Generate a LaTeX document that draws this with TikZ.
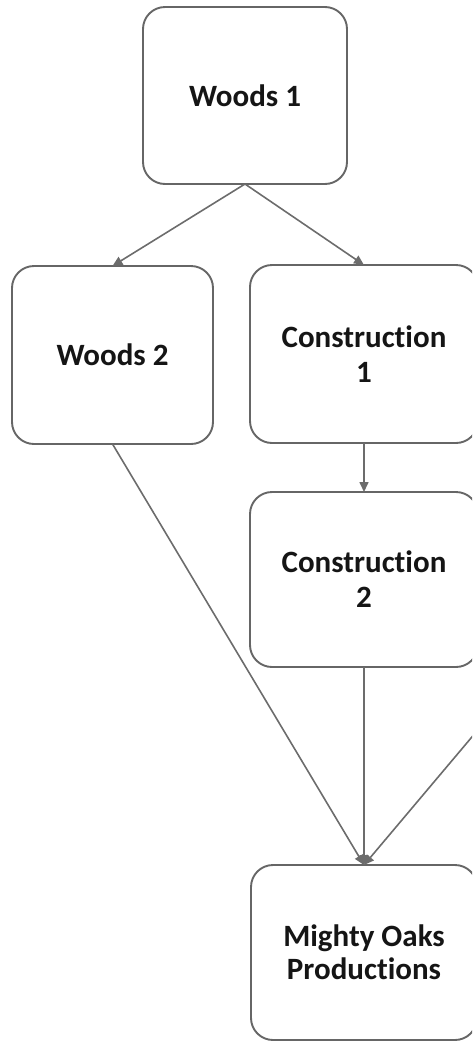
\documentclass[tikz,border=0pt]{standalone}
\usepackage{fontspec}
\setmainfont[Ligatures=NoCommon]{Carlito}
\usetikzlibrary{arrows.meta}
\definecolor{boxgray}{HTML}{666666}
\definecolor{linegray}{HTML}{6C6C6C}
\definecolor{textc}{HTML}{151515}
\begin{document}
\begin{tikzpicture}[x=1pt,y=-1pt,
  box/.style={draw=boxgray,line width=1.9pt,rounded corners=22pt,fill=white,
    inner sep=0pt,outer sep=0pt,align=center,text=textc,
    font=\fontsize{31}{35}\selectfont\bfseries},
  link/.style={draw=linegray,line width=1.6pt,-{Triangle[length=10pt,width=9pt]}}]
\useasboundingbox (0,0) rectangle (472,1042);
\clip (0,0) rectangle (472,1042);
\node[box,minimum width=204pt,minimum height=177pt] (w1) at (245,95.5) {Woods 1};
\node[box,minimum width=201pt,minimum height=178pt] (w2) at (112.5,355) {Woods 2};
\node[box,minimum width=228pt,minimum height=178pt] (c1) at (364,354) {Construction\\1};
\node[box,minimum width=228pt,minimum height=175pt] (c2) at (364,579.5) {Construction\\2};
\node[box,minimum width=226pt,minimum height=175pt,font=\fontsize{31}{33}\selectfont\bfseries] (mo) at (364,952.5) {Mighty Oaks\\Productions};
\coordinate (offr) at (498,706);
\draw[link] (w1.south) -- (w2.north);
\draw[link] (w1.south) -- (c1.north);
\draw[link] (c1.south) -- (c2.north);
\draw[link] (w2.south) -- (mo.north);
\draw[link] (c2.south) -- (mo.north);
\draw[link] (offr) -- (mo.north);
\end{tikzpicture}
\end{document}
